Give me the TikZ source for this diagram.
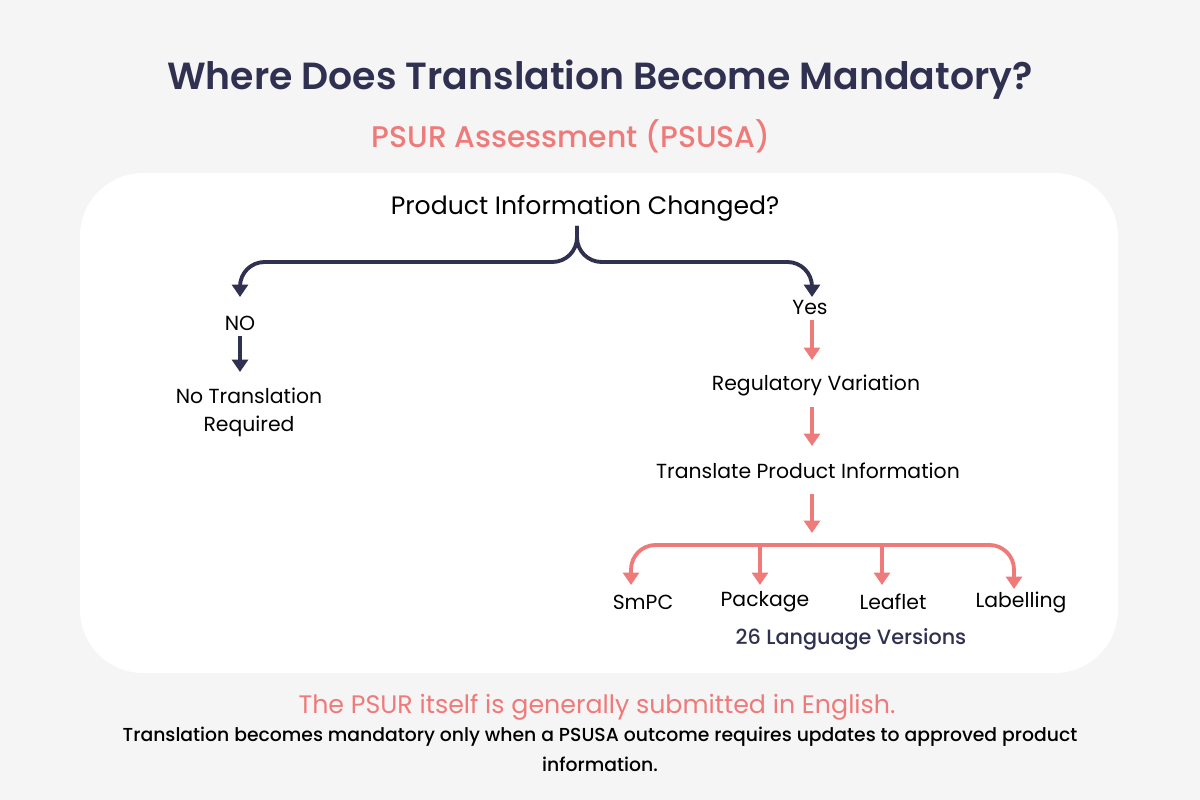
\documentclass[tikz,border=0pt]{standalone}
\usepackage{fontspec}
\setmainfont{Poppins}[BoldFont={Poppins SemiBold}]
\newfontface\medface{Poppins Medium}
\usetikzlibrary{arrows.meta}
\definecolor{navy}{HTML}{303050}
\definecolor{rose}{HTML}{EF7A7A}
\definecolor{bggray}{HTML}{F5F5F5}
\tikzset{
  lbl/.style={font=\fontsize{11.6}{16}\selectfont,text=black,align=center},
  darr/.style={draw=navy,line width=2.2pt,-{Triangle[length=7pt,width=9pt]}},
  parr/.style={draw=rose,line width=2.2pt,-{Triangle[length=7pt,width=9pt]}},
}
\begin{document}
\begin{tikzpicture}[x=0.02cm,y=-0.02cm]
  \fill[bggray] (0,0) rectangle (1200,800);
  \useasboundingbox (0,0) rectangle (1200,800);
  \fill[white,rounded corners=36] (80,173) rectangle (1118,673);
  \node[font=\fontsize{21.5}{26}\selectfont\bfseries,text=navy] (title) at (600,80) {Where Does Translation Become Mandatory?};
  \node[font=\fontsize{17}{21}\selectfont\medface,text=rose] (sub) at (571,136) {PSUR Assessment (PSUSA)};
  % question and brace
  \node[lbl,font=\fontsize{14.3}{17}\selectfont] (q) at (585,208) {Product Information Changed?};
  \coordinate (tip) at (577,226);
  \node[lbl] (no) at (240,323) {NO};
  \node[lbl] (yes) at (810,307) {Yes};
  \draw[darr,rounded corners=14] (tip) -- (577,262) -| (240,297);
  \draw[darr,rounded corners=14] (tip) -- (577,262) -| (812,297);
  % left branch
  \node[lbl] (none) at (249,412) {No Translation\\Required};
  \draw[darr] (240,336) -- (240,372);
  % right branch
  \node[lbl] (var) at (816,385) {Regulatory Variation};
  \node[lbl] (tr) at (808,471) {Translate Product Information};
  \draw[parr] (812,320) -- (812,360);
  \draw[parr] (812,407) -- (812,446);
  \coordinate (fork) at (812,545);
  \draw[parr] (812,494) -- (812,533);
  \node[lbl] (smpc) at (643,602) {SmPC};
  \node[lbl] (pkg) at (765,602) {Package};
  \node[lbl] (leaf) at (893,602) {Leaflet};
  \node[lbl] (lab) at (1021,602) {Labelling};
  \draw[parr,rounded corners=14] (fork) -| (631,585);
  \draw[parr,rounded corners=14] (fork) -| (1014,589);
  \draw[parr] (760,545) -- (760,585);
  \draw[parr] (882,545) -- (882,585);
  \node[lbl,text=navy,font=\fontsize{11.8}{16}\selectfont\medface] (langs) at (851,639) {26 Language Versions};
  % footer
  \node[font=\fontsize{14.4}{18}\selectfont,text=rose] (note) at (597,707) {The PSUR itself is generally submitted in English.};
  \node[lbl,font=\fontsize{10.7}{17}\selectfont\medface] (foot) at (600,749) {Translation becomes mandatory only when a PSUSA outcome requires updates to approved product\\information.};
\end{tikzpicture}
\end{document}
